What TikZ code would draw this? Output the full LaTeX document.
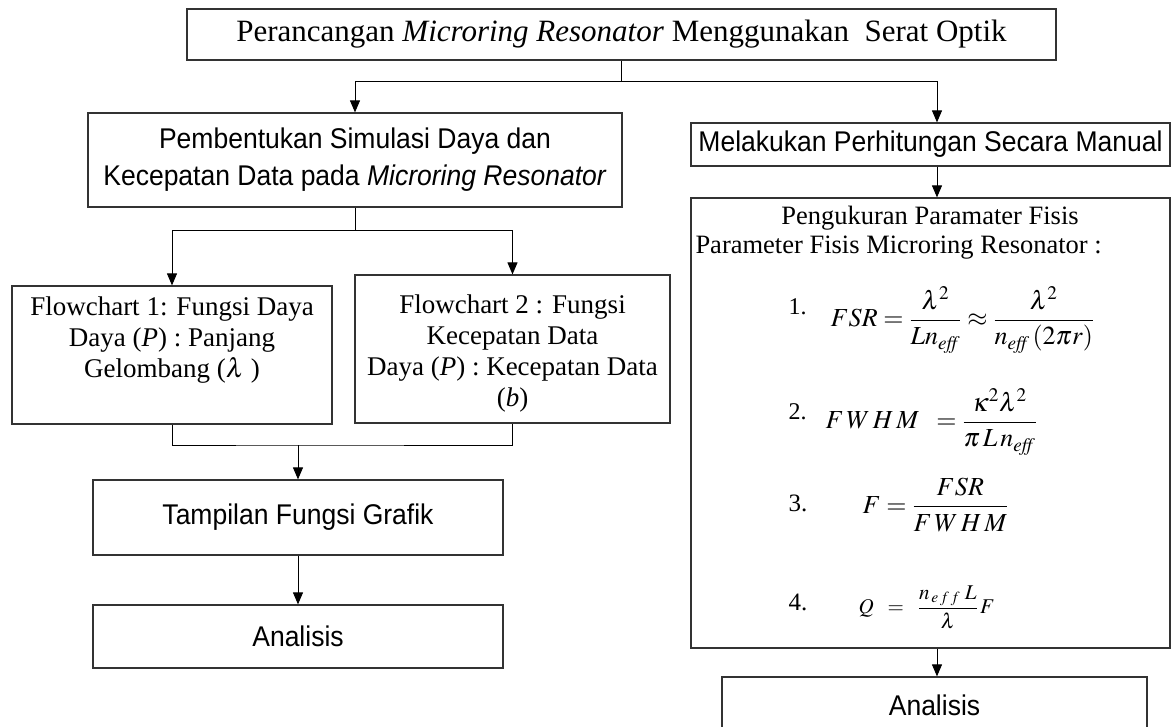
\documentclass[tikz,border=0pt]{standalone}
\usepackage{amsmath}
\usepackage{mathptmx}
\usepackage[no-math]{fontspec}
\setmainfont{Liberation Serif}
\newfontfamily\arialfont[FakeStretch=0.93]{Liberation Sans}
\usetikzlibrary{arrows.meta}

\begin{document}
\begin{tikzpicture}[x=1pt, y=-1pt,
    kotak/.style={draw=black!80, line width=1.2pt, inner sep=0pt, align=center},
    sans/.style={font={\arialfont\fontsize{28.5}{37}\selectfont}},
    serif/.style={font={\fontsize{27}{31}\selectfont}, inner sep=0pt, align=center},
    panah/.style={-{Triangle[length=12pt, width=10pt]}},
    line width=1pt,
  ]
    \useasboundingbox (0,0) rectangle (1172,727);

    % kotak-kotak
    \node[kotak, minimum width=869, minimum height=51, font={\fontsize{31}{36}\selectfont}] (judul) at (621.5,34.5)
      {Perancangan \textit{Microring Resonator} Menggunakan~ Serat Optik};
    \node[kotak, sans, minimum width=534, minimum height=94] (simulasi) at (355,160)
      {Pembentukan Simulasi Daya dan\\Kecepatan Data pada \textit{Microring Resonator}};
    \node[kotak, sans, minimum width=479, minimum height=43] (manual) at (930.5,144.5) {Melakukan Perhitungan Secara Manual};
    \node[kotak, minimum width=479, minimum height=450] (ukur) at (930.5,423) {};
    \node[kotak, minimum width=320, minimum height=138] (fc1) at (172,355) {};
    \node[kotak, minimum width=315, minimum height=148] (fc2) at (512.5,349) {};
    \node[kotak, sans, minimum width=410, minimum height=75] (grafik) at (298,517.5) {Tampilan Fungsi Grafik};
    \node[kotak, sans, minimum width=410, minimum height=63] (analisis1) at (298,636.5) {Analisis};
    \node[kotak, sans, minimum width=425, minimum height=56] (analisis2) at (934.5,705) {Analisis};

    % teks flowchart
    \node[serif] (fc1teks) at (172,340) {Flowchart 1: Fungsi Daya\\Daya (\textit{P}) : Panjang\\Gelombang ($\lambda$ )};
    \node[serif] (fc2teks) at (512.5,354) {Flowchart 2 : Fungsi\\Kecepatan Data\\Daya (\textit{P}) : Kecepatan Data\\(\textit{b})};

    % parameter fisis
    \node[serif, font={\fontsize{26.5}{30}\selectfont}] (ukurjudul) at (930,218) {Pengukuran Paramater Fisis};
    \node[serif, anchor=west, font={\fontsize{26.5}{30}\selectfont}] (param) at (695,248) {Parameter Fisis Microring Resonator :};
    \node[serif, anchor=west, font={\fontsize{24}{28}\selectfont}] (no1) at (788,307) {1.};
    \node[serif, anchor=west, font={\fontsize{26}{30}\selectfont}] (rumus1) at (830,320)
      {$FSR=\dfrac{\lambda^2}{Ln_{\mathit{eff}}}\approx\dfrac{\lambda^2}{n_{\mathit{eff}}\,(2\pi r)}$};
    \node[serif, anchor=west, font={\fontsize{24}{28}\selectfont}] (no2) at (788,412) {2.};
    \node[serif, anchor=west, font={\fontsize{26}{30}\selectfont}] (rumus2) at (825,422)
      {$F\,W\,H\,M\;\;=\dfrac{\kappa^2\lambda^2}{\pi\,L\,n_{\mathit{eff}}}$};
    \node[serif, anchor=west, font={\fontsize{25}{30}\selectfont}] (no3) at (788,503) {3.};
    \node[serif, anchor=west, font={\fontsize{26}{30}\selectfont}] (rumus3) at (862,505)
      {$F=\dfrac{FSR}{F\,W\,H\,M}$};
    \node[serif, anchor=west, font={\fontsize{25}{30}\selectfont}] (no4) at (788,602) {4.};
    \node[serif, anchor=west, font={\fontsize{21}{26}\selectfont}] (rumus4) at (858,607)
      {$Q\;\;=\;\;\dfrac{n_{\,e\,f\,f}\;L}{\lambda}\,F$};

    % garis penghubung
    \coordinate (c1) at (621.5,82);
    \coordinate (c2) at (937,82);
    \draw (judul.south) -- (c1);
    \draw[panah] (c1) -| (simulasi.north);
    \draw[panah] (c1) -- (c2) -- (c2 |- manual.north);
    \draw[panah] (c2 |- manual.south) -- (c2 |- ukur.north);
    \draw[panah] (c2 |- ukur.south) -- (c2 |- analisis2.north);

    \coordinate (c3) at (355,231);
    \draw (simulasi.south) -- (c3);
    \draw[panah] (c3) -| (fc1.north);
    \draw[panah] (c3) -| (fc2.north);

    \coordinate (c4) at (298,445);
    \draw (fc1.south) |- (c4) -| (fc2.south);
    \draw[panah] (c4) -- (grafik.north);
    \draw[panah] (grafik) -- (analisis1);
  \end{tikzpicture}
\end{document}
